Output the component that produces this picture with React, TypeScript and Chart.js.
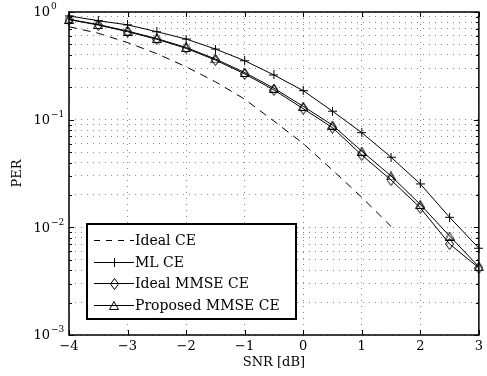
import { useEffect, useRef } from 'react';
import { Chart, registerables } from 'chart.js';

Chart.register(...registerables);

// ---- data ----
const snr = [-4, -3.5, -3, -2.5, -2, -1.5, -1, -0.5, 0, 0.5, 1, 1.5, 2, 2.5, 3];
const idealCE = [0.73, 0.635, 0.52, 0.41, 0.31, 0.225, 0.155, 0.097, 0.06, 0.034, 0.019, 0.0102];
const mlCE = [0.92, 0.83, 0.76, 0.656, 0.561, 0.453, 0.353, 0.26, 0.186, 0.12, 0.0757, 0.0448, 0.0253, 0.0124, 0.0064];
const idealMMSE = [0.85, 0.757, 0.656, 0.558, 0.46, 0.358, 0.266, 0.189, 0.1265, 0.0843, 0.047, 0.0275, 0.0152, 0.007, 0.0042];
const proposedMMSE = [0.855, 0.765, 0.665, 0.567, 0.468, 0.366, 0.274, 0.196, 0.133, 0.089, 0.051, 0.03, 0.0163, 0.0083, 0.0043];

const seriesLabels = ['Ideal CE', 'ML CE', 'Ideal MMSE CE', 'Proposed MMSE CE'];
const xTicks = [-4, -3, -2, -1, 0, 1, 2, 3];
const yDecadeExponents = [-3, -2, -1, 0];
const yMinorMultipliers = [1, 2, 3, 4, 5, 6, 7, 8, 9];
const yTickBase = '10';
const xTitle = 'SNR [dB]';
const yTitle = 'PER';

const FONT = "'DejaVu Serif', serif";

function buildYTicks(): number[] {
  const out: number[] = [];
  yDecadeExponents.forEach((e, i) => {
    if (i === yDecadeExponents.length - 1) {
      out.push(Math.pow(10, e));
    } else {
      yMinorMultipliers.forEach((m) => out.push(m * Math.pow(10, e)));
    }
  });
  return out;
}

function isDecade(v: number): number | null {
  const e = Math.log10(v);
  const r = Math.round(e);
  return Math.abs(e - r) < 1e-6 ? r : null;
}

function makeMarker(kind: string): HTMLCanvasElement {
  const c = document.createElement('canvas');
  let w = 9, h = 9;
  if (kind === 'diamond') { w = 9; h = 12; }
  if (kind === 'triangle') { w = 10; h = 9; }
  c.width = w; c.height = h;
  const g = c.getContext('2d')!;
  g.strokeStyle = '#000';
  g.lineWidth = 1;
  g.beginPath();
  if (kind === 'cross') {
    g.moveTo(4.5, 0); g.lineTo(4.5, 9);
    g.moveTo(0, 4.5); g.lineTo(9, 4.5);
  } else if (kind === 'diamond') {
    g.moveTo(4.5, 0.5); g.lineTo(8.5, 6); g.lineTo(4.5, 11.5); g.lineTo(0.5, 6); g.closePath();
  } else if (kind === 'triangle') {
    g.moveTo(5, 0.5); g.lineTo(9.5, 8.5); g.lineTo(0.5, 8.5); g.closePath();
  }
  g.stroke();
  return c;
}

export default function App() {
  const ref = useRef<HTMLCanvasElement | null>(null);

  useEffect(() => {
    document.body.style.margin = '0';
    const canvas = ref.current!;
    const markers = {
      cross: makeMarker('cross'),
      diamond: makeMarker('diamond'),
      triangle: makeMarker('triangle'),
    };
    const yTickValues = buildYTicks();

    const framePlugin = {
      id: 'frame',
      afterDatasetsDraw(chart: any) {
        const { ctx, chartArea: a, scales } = chart;
        ctx.save();
        ctx.strokeStyle = '#000';
        ctx.lineWidth = 1;
        ctx.beginPath();
        scales.x.ticks.forEach((t: any) => {
          const px = Math.round(scales.x.getPixelForValue(t.value)) + 0.5;
          ctx.moveTo(px, a.bottom); ctx.lineTo(px, a.bottom - 5);
          ctx.moveTo(px, a.top); ctx.lineTo(px, a.top + 5);
        });
        scales.y.ticks.forEach((t: any) => {
          const py = Math.round(scales.y.getPixelForValue(t.value)) + 0.5;
          const L = isDecade(t.value) !== null ? 5 : 3;
          ctx.moveTo(a.left, py); ctx.lineTo(a.left + L, py);
          ctx.moveTo(a.right, py); ctx.lineTo(a.right - L, py);
        });
        ctx.stroke();
        ctx.lineWidth = 1.5;
        ctx.strokeRect(a.left, a.top, a.right - a.left, a.bottom - a.top);

        // y tick labels: 10 with superscript exponent
        ctx.fillStyle = '#000';
        ctx.textBaseline = 'middle';
        scales.y.ticks.forEach((t: any) => {
          const e = isDecade(t.value);
          if (e === null) return;
          const py = scales.y.getPixelForValue(t.value);
          const baseRight = a.left - 19;
          ctx.font = `13px ${FONT}`;
          ctx.textAlign = 'right';
          ctx.fillText(yTickBase, baseRight, py + 1);
          ctx.font = `9px ${FONT}`;
          ctx.textAlign = 'left';
          const expText = e < 0 ? '\u2212' + Math.abs(e) : String(e);
          ctx.fillText(expText, baseRight + 1, py - 5);
        });
        ctx.restore();
      },
    };

    const legendPlugin = {
      id: 'boxLegend',
      afterDraw(chart: any) {
        const { ctx, chartArea: a } = chart;
        const left = a.left + 18;
        const top = a.top + 212;
        const w = 209;
        const h = 95;
        ctx.save();
        ctx.fillStyle = '#fff';
        ctx.fillRect(left, top, w, h);
        ctx.strokeStyle = '#000';
        ctx.lineWidth = 2;
        ctx.strokeRect(left, top, w, h);
        chart.data.datasets.forEach((ds: any, i: number) => {
          const cy = Math.round(top + 16 + i * 21.7) + 0.5;
          ctx.save();
          ctx.strokeStyle = '#000';
          ctx.lineWidth = 1;
          ctx.setLineDash(ds.borderDash ? [6, 6] : []);
          ctx.beginPath();
          ctx.moveTo(left + 7, cy);
          ctx.lineTo(left + 47, cy);
          ctx.stroke();
          ctx.restore();
          if (ds.pointStyle instanceof HTMLCanvasElement && ds.pointRadius > 0) {
            const m = ds.pointStyle as HTMLCanvasElement;
            ctx.drawImage(m, Math.round(left + 27 - m.width / 2), Math.round(cy - m.height / 2));
          }
          ctx.fillStyle = '#000';
          ctx.font = `14px ${FONT}`;
          ctx.textBaseline = 'middle';
          ctx.textAlign = 'left';
          ctx.fillText(ds.label, left + 48, cy + 1);
        });
        ctx.restore();
      },
    };

    const mk = (vals: number[]) => vals.map((y, i) => ({ x: snr[i], y }));

    const chart = new Chart(canvas, {
      type: 'line',
      data: {
        datasets: [
          {
            label: seriesLabels[0], data: mk(idealCE), borderColor: '#000', borderWidth: 1,
            borderDash: [8, 6], pointRadius: 0, pointStyle: false as any, clip: false as any,
          },
          {
            label: seriesLabels[1], data: mk(mlCE), borderColor: '#000', borderWidth: 1,
            pointStyle: markers.cross, pointRadius: 5, clip: false as any,
          },
          {
            label: seriesLabels[2], data: mk(idealMMSE), borderColor: '#000', borderWidth: 1,
            pointStyle: markers.diamond, pointRadius: 5, clip: false as any,
          },
          {
            label: seriesLabels[3], data: mk(proposedMMSE), borderColor: '#000', borderWidth: 1,
            pointStyle: markers.triangle, pointRadius: 5, clip: false as any,
          },
        ],
      },
      options: {
        animation: false,
        responsive: true,
        maintainAspectRatio: false,
        events: [],
        layout: { padding: { top: 12, right: 7, left: 0, bottom: 0 } },
        plugins: { legend: { display: false }, tooltip: { enabled: false } },
        elements: { line: { tension: 0 } },
        scales: {
          x: {
            type: 'linear',
            min: -4,
            max: 3,
            afterBuildTicks: (s: any) => { s.ticks = xTicks.map((v) => ({ value: v })); },
            afterFit: (s: any) => { s.height = 41; },
            ticks: {
              autoSkip: false,
              padding: 4,
              color: '#000',
              font: { family: FONT, size: 13 },
              callback: (v: any) => (Number(v) < 0 ? '\u2212' + Math.abs(Number(v)) : String(v)),
            },
            grid: { color: '#8a8a8a', lineWidth: 1, drawTicks: false } as any,
            border: { display: false, dash: [1, 5] },
            title: { display: true, text: xTitle, color: '#000', font: { family: FONT, size: 13 }, padding: { top: 0, bottom: 6 } },
          },
          y: {
            type: 'logarithmic',
            min: 0.001,
            max: 1,
            afterBuildTicks: (s: any) => { s.ticks = yTickValues.map((v) => ({ value: v })); },
            afterFit: (s: any) => { s.width = 69; },
            ticks: { display: false, autoSkip: false },
            grid: { color: '#8a8a8a', lineWidth: 1, drawTicks: false } as any,
            border: { display: false, dash: [1, 5] },
            title: { display: true, text: yTitle, color: '#000', font: { family: FONT, size: 13 }, padding: { top: 10, bottom: 0 } },
          },
        },
      },
      plugins: [framePlugin, legendPlugin],
    });

    return () => chart.destroy();
  }, []);

  return (
    <div style={{ width: 487, height: 376, position: 'relative' }}>
      <canvas ref={ref} />
    </div>
  );
}
